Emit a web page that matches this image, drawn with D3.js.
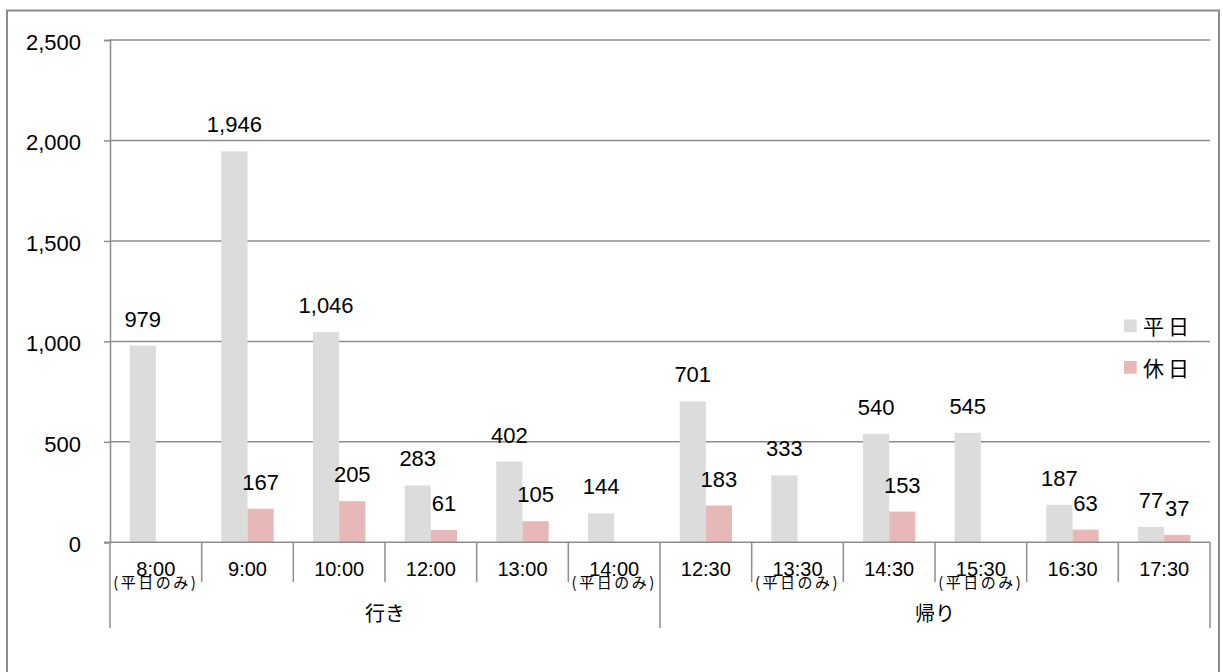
<!DOCTYPE html>
<html>
<head>
<meta charset="utf-8">
<script src="https://cdn.jsdelivr.net/npm/d3@7"></script>
<style>
  body { margin: 0; background: #fff; }
  text { font-family: "Liberation Sans", "Noto Sans CJK JP", sans-serif; fill: #000; }
  .jp { font-family: "Noto Sans CJK JP", sans-serif; }
</style>
</head>
<body>
<svg id="chart"></svg>
<script>
//-----------------------------------------
// data
//-----------------------------------------
var categories = ["8:00", "9:00", "10:00", "12:00", "13:00", "14:00",
                  "12:30", "13:30", "14:30", "15:30", "16:30", "17:30"];
var subLabels = ["(平日のみ)", "", "", "", "", "(平日のみ)",
                 "", "(平日のみ)", "", "(平日のみ)", "", ""];
var groups = [{name: "行き", from: 0, to: 6}, {name: "帰り", from: 6, to: 12}];
var seriesNames = ["平日", "休日"];
var weekday = [979, 1946, 1046, 283, 402, 144, 701, 333, 540, 545, 187, 77];
var holiday = [null, 167, 205, 61, 105, null, 183, null, 153, null, 63, 37];
var yTicks = [0, 500, 1000, 1500, 2000, 2500];
var colors = ["#dcdcdc", "#e6b9b8"];

//-----------------------------------------
// chart
//-----------------------------------------
var svgWidth = 1223, svgHeight = 672;
var svg = d3.select("#chart").attr("width", svgWidth).attr("height", svgHeight);

// outer frame
svg.append("rect")
    .attr("x", 7).attr("y", 10.5)
    .attr("width", 1212).attr("height", 700)
    .attr("fill", "none").attr("stroke", "#8c8c8c").attr("stroke-width", 2);

var plotLeft = 110, plotRight = 1210, plotTop = 40, zeroY = 542.3;

var x0 = d3.scaleBand().domain(categories).range([plotLeft, plotRight]).padding(0);
var x1 = d3.scaleBand().domain(seriesNames).range([0, x0.bandwidth()])
    .paddingInner(0).paddingOuter(0.75);
var y = d3.scaleLinear().domain([0, 2500]).range([zeroY, plotTop]);

// gridlines
svg.append("g").selectAll("line")
    .data(yTicks.filter(function(d) { return d > 0; }))
    .enter().append("line")
    .attr("x1", plotLeft).attr("x2", plotRight)
    .attr("y1", function(d) { return y(d); })
    .attr("y2", function(d) { return y(d); })
    .attr("stroke", "#8c8c8c").attr("stroke-width", 1.5);

// y axis
var yAxis = d3.axisLeft(y).tickValues(yTicks).tickSize(6).tickPadding(23)
    .tickFormat(d3.format(","));
var yg = svg.append("g").attr("transform", "translate(" + plotLeft + ",0)").call(yAxis);
yg.select(".domain").attr("stroke", "#8c8c8c").attr("stroke-width", 1.5);
yg.selectAll(".tick line").attr("stroke", "#8c8c8c").attr("stroke-width", 1.5);
yg.selectAll(".tick text")
    .attr("font-size", 22)
    .attr("font-family", "Liberation Sans")
    .attr("dy", "0.42em");

// bars + value labels
var series = [weekday, holiday];
series.forEach(function(values, si) {
    var rows = categories.map(function(c, i) { return {cat: c, v: values[i]}; })
        .filter(function(d) { return d.v != null; });
    svg.append("g").selectAll("rect")
        .data(rows).enter().append("rect")
        .attr("x", function(d) { return x0(d.cat) + x1(seriesNames[si]); })
        .attr("y", function(d) { return y(d.v); })
        .attr("width", x1.bandwidth())
        .attr("height", function(d) { return zeroY - y(d.v); })
        .attr("fill", colors[si]);
    svg.append("g").selectAll("text")
        .data(rows).enter().append("text")
        .attr("x", function(d) { return x0(d.cat) + x1(seriesNames[si]) + x1.bandwidth() / 2; })
        .attr("y", function(d) { return y(d.v) - 19; })
        .attr("text-anchor", "middle")
        .attr("font-size", 22)
        .text(function(d) { return d3.format(",")(d.v); });
});

// x axis line
svg.append("line")
    .attr("x1", plotLeft - 6).attr("x2", plotRight)
    .attr("y1", zeroY).attr("y2", zeroY)
    .attr("stroke", "#8c8c8c").attr("stroke-width", 1.5);

// category boundary ticks (group edges go further down)
var bounds = d3.range(categories.length + 1);
svg.append("g").selectAll("line")
    .data(bounds).enter().append("line")
    .attr("x1", function(i) { return plotLeft + i * x0.step(); })
    .attr("x2", function(i) { return plotLeft + i * x0.step(); })
    .attr("y1", zeroY)
    .attr("y2", function(i) { return (i % 6 === 0) ? 628 : 582; })
    .attr("stroke", "#8c8c8c").attr("stroke-width", 1.5);

// category labels
svg.append("g").selectAll("text")
    .data(categories).enter().append("text")
    .attr("x", function(d) { return x0(d) + x0.bandwidth() / 2; })
    .attr("y", 576)
    .attr("text-anchor", "middle")
    .attr("font-size", 20)
    .text(function(d) { return d; });

svg.append("g").selectAll("text")
    .data(categories).enter().append("text")
    .attr("class", "jp")
    .attr("x", function(d) { return x0(d) + x0.bandwidth() / 2; })
    .attr("y", 588)
    .attr("text-anchor", "middle")
    .attr("font-size", 15)
    .attr("letter-spacing", 2.5)
    .text(function(d, i) { return subLabels[i]; });

// group labels
svg.append("g").selectAll("text")
    .data(groups).enter().append("text")
    .attr("class", "jp")
    .attr("x", function(g) { return plotLeft + (g.from + g.to) / 2 * x0.step(); })
    .attr("y", 621)
    .attr("text-anchor", "middle")
    .attr("font-size", 20)
    .text(function(g) { return g.name; });

// legend
var legend = svg.append("g").selectAll("g")
    .data(seriesNames).enter().append("g")
    .attr("transform", function(d, i) { return "translate(1124," + (319.5 + i * 41.5) + ")"; });
legend.append("rect")
    .attr("width", 12.7).attr("height", 12.7)
    .attr("fill", function(d, i) { return colors[i]; });
legend.append("text")
    .attr("class", "jp")
    .attr("x", 19).attr("y", 14.5)
    .attr("font-size", 21)
    .attr("letter-spacing", 4)
    .text(function(d) { return d; });
</script>
</body>
</html>
